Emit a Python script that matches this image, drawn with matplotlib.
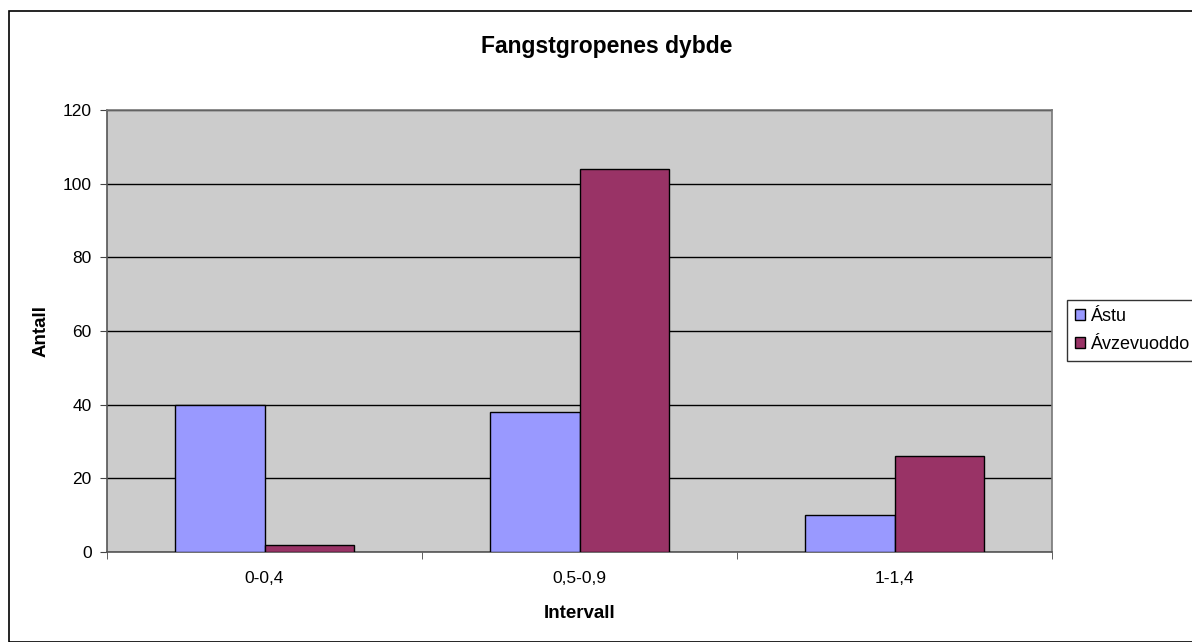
import matplotlib.pyplot as plt
import numpy as np
from matplotlib.patches import Rectangle

categories = ["0-0,4", "0,5-0,9", "1-1,4"]
astu = [40, 38, 10]
avzevuoddo = [2, 104, 26]
series_names = ["Ástu", "Ávzevuoddo"]

plt.rcParams['font.family'] = ['Liberation Sans', 'DejaVu Sans']

W, H = 1192, 642
fig = plt.figure(figsize=(W / 100, H / 100), dpi=100)

# outer chart border (runs off the right and bottom edges)
fig.patches.append(Rectangle((9 / W, 0), 1.0, 1 - 11 / H, transform=fig.transFigure,
                             fill=False, edgecolor='black', linewidth=1.2, zorder=0))

ax = fig.add_axes([107 / W, 1 - 552 / H, (1052 - 107) / W, (552 - 110) / H])
ax.set_facecolor('#cccccc')

x = np.arange(len(categories))
w = 0.2857
ax.bar(x - w / 2, astu, w, color='#9999ff', edgecolor='black', linewidth=1, label=series_names[0], zorder=3)
ax.bar(x + w / 2, avzevuoddo, w, color='#993366', edgecolor='black', linewidth=1, label=series_names[1], zorder=3)

ax.set_xlim(-0.5, 2.5)
ax.set_ylim(0, 120)
ax.set_yticks(range(0, 121, 20))
ax.yaxis.grid(True, color='black', linewidth=1)
ax.set_axisbelow(True)

ax.set_xticks(x)
ax.set_xticklabels(categories, fontsize=12.5)
ax.tick_params(axis='x', length=0, pad=14)
ax.set_xticks([-0.5, 0.5, 1.5, 2.5], minor=True)
ax.tick_params(axis='x', which='minor', length=5, direction='out', color='#444444')
ax.tick_params(axis='y', length=5, direction='out', labelsize=12.5, color='#444444', pad=6)

for s in ax.spines.values():
    s.set_color('#777777')
    s.set_linewidth(1.2)
ax.spines['left'].set_color('#555555')
ax.spines['bottom'].set_color('#555555')

ax.set_xlabel("Intervall", fontsize=13.5, fontweight='bold')
ax.xaxis.set_label_coords(0.5, -(614 - 552) / 442, transform=ax.transAxes)
ax.xaxis.label.set_va('center')
ax.set_ylabel("Antall", fontsize=13.5, fontweight='bold')
ax.yaxis.set_label_coords((41 - 107) / 945, 0.5, transform=ax.transAxes)
ax.yaxis.label.set_va('center')
fig.text(0.5 * (477 + 737) / W, 1 - 47 / H, "Fangstgropenes dybde", ha='center', va='center',
         fontsize=16.5, fontweight='bold')

leg = ax.legend(loc='upper left', bbox_to_anchor=(1067 / W, 1 - 300 / H), bbox_transform=fig.transFigure,
                fontsize=13, frameon=True, fancybox=False, edgecolor='black', handlelength=0.55,
                handleheight=0.55, handletextpad=0.3, borderpad=0.45, labelspacing=0.6, borderaxespad=0)
leg.get_frame().set_linewidth(1)

fig.savefig("out.png", dpi=100)
